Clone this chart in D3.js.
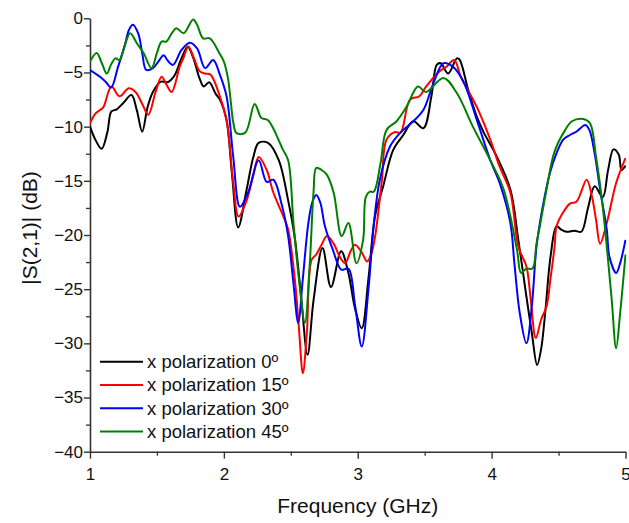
<!DOCTYPE html>
<html>
<head>
<meta charset="utf-8">
<script src="https://cdn.jsdelivr.net/npm/d3@7"></script>
<style>
  html, body { margin: 0; padding: 0; background: #fff; }
  svg { display: block; }
  text { font-family: Arial, "Liberation Sans", sans-serif; fill: #111; }
</style>
</head>
<body>
<svg id="chart" width="629" height="523"></svg>
<script>
// Transmission |S21| versus frequency for four polarization angles.
const freq0 = [1.00,1.04,1.087,1.13,1.16,1.20,1.25,1.31,1.35,1.39,1.43,1.47,1.53,1.58,1.63,1.68,1.73,1.77,1.82,1.85,1.89,1.94,1.97,2.02,2.06,2.107,2.17,2.22,2.26,2.33,2.41,2.48,2.53,2.575,2.625,2.67,2.737,2.80,2.876,2.93,2.98,3.03,3.08,3.13,3.19,3.265,3.34,3.415,3.49,3.55,3.59,3.62,3.675,3.74,3.76,3.825,3.89,3.94,4.04,4.14,4.20,4.26,4.30,4.34,4.37,4.40,4.44,4.485,4.52,4.56,4.62,4.67,4.72,4.77,4.83,4.87,4.91,4.95,4.97,5.00];
const s21_0 = [-10.0,-11.2,-12.05,-10.5,-8.6,-8.4,-7.8,-7.07,-8.5,-10.46,-8.2,-6.8,-5.85,-5.9,-5.3,-3.8,-2.62,-3.6,-5.6,-6.3,-5.9,-7.0,-7.5,-9.4,-14.3,-19.3,-15.8,-12.8,-11.5,-11.5,-13.1,-16.8,-20.3,-25.4,-31.06,-26.0,-21.2,-24.8,-21.5,-23.5,-26.8,-28.6,-24.0,-18.2,-15.5,-12.15,-10.77,-9.5,-10.15,-7.2,-4.3,-4.15,-5.1,-3.7,-3.8,-6.6,-9.1,-10.5,-12.8,-15.8,-20.5,-25.7,-29.0,-32.0,-30.5,-27.2,-22.0,-19.2,-19.5,-19.7,-19.6,-19.7,-17.5,-15.5,-16.5,-14.0,-12.1,-12.6,-14.0,-13.6];

const freq15 = [1.00,1.04,1.075,1.10,1.16,1.22,1.29,1.34,1.39,1.435,1.49,1.535,1.57,1.61,1.67,1.70,1.735,1.78,1.82,1.86,1.90,1.97,2.02,2.07,2.11,2.17,2.22,2.26,2.32,2.37,2.445,2.48,2.53,2.56,2.59,2.62,2.655,2.69,2.73,2.77,2.82,2.865,2.905,2.95,2.98,3.03,3.07,3.10,3.13,3.18,3.215,3.28,3.32,3.39,3.46,3.51,3.61,3.66,3.72,3.77,3.83,3.89,3.99,4.06,4.14,4.20,4.26,4.29,4.33,4.37,4.41,4.44,4.47,4.485,4.53,4.585,4.635,4.71,4.75,4.78,4.81,4.86,4.93,5.00];
const s21_15 = [-9.7,-8.8,-8.46,-8.2,-6.3,-7.2,-6.46,-6.8,-7.9,-8.9,-6.8,-5.4,-6.1,-6.8,-4.46,-3.6,-2.6,-3.8,-4.9,-5.1,-5.2,-7.2,-9.4,-15.2,-18.3,-16.8,-14.5,-12.8,-14.0,-16.1,-18.3,-19.5,-24.1,-28.5,-32.75,-29.0,-22.3,-21.8,-20.9,-20.1,-20.8,-22.0,-22.6,-21.4,-20.9,-21.6,-22.45,-21.8,-20.1,-15.0,-11.2,-10.5,-10.55,-7.5,-7.2,-6.3,-4.9,-4.5,-3.85,-5.4,-6.8,-8.2,-11.2,-13.7,-16.1,-21.1,-22.9,-25.7,-29.5,-27.8,-26.6,-24.0,-21.1,-19.2,-18.0,-17.1,-16.9,-14.9,-16.5,-18.6,-20.8,-18.9,-15.2,-12.9];

const freq30 = [1.00,1.075,1.12,1.157,1.21,1.26,1.29,1.32,1.36,1.39,1.42,1.47,1.51,1.55,1.58,1.62,1.685,1.745,1.80,1.86,1.92,1.97,2.02,2.07,2.12,2.18,2.26,2.32,2.37,2.43,2.48,2.52,2.555,2.59,2.63,2.66,2.69,2.72,2.755,2.815,2.877,2.93,2.98,3.03,3.08,3.12,3.165,3.24,3.315,3.415,3.49,3.565,3.64,3.71,3.79,3.89,3.99,4.06,4.14,4.17,4.21,4.26,4.30,4.335,4.38,4.435,4.485,4.535,4.585,4.635,4.70,4.73,4.77,4.81,4.86,4.88,4.93,4.96,5.00];
const s21_30 = [-4.77,-5.4,-5.9,-6.4,-4.46,-2.5,-1.1,-0.6,-1.4,-3.2,-4.77,-4.6,-4.0,-3.4,-3.9,-4.3,-2.9,-2.25,-2.77,-4.6,-3.85,-5.2,-7.2,-12.8,-17.4,-16.1,-13.1,-15.1,-14.9,-17.1,-20.1,-24.5,-28.1,-24.0,-19.0,-17.0,-16.3,-17.0,-19.2,-21.4,-23.2,-23.1,-26.5,-30.3,-25.0,-19.0,-14.9,-11.85,-10.6,-9.5,-8.46,-6.0,-4.15,-4.46,-5.85,-9.4,-13.1,-15.2,-18.9,-22.6,-27.2,-30.0,-26.6,-21.1,-17.5,-14.3,-12.45,-11.2,-10.77,-10.45,-9.84,-10.3,-12.5,-15.8,-19.5,-22.0,-23.5,-22.6,-20.45];

const freq45 = [1.00,1.05,1.09,1.125,1.16,1.19,1.22,1.26,1.30,1.35,1.40,1.46,1.50,1.535,1.57,1.61,1.645,1.70,1.77,1.80,1.845,1.895,1.97,2.00,2.03,2.05,2.07,2.095,2.16,2.23,2.28,2.33,2.44,2.48,2.52,2.56,2.605,2.64,2.67,2.69,2.73,2.77,2.82,2.88,2.93,2.99,3.04,3.06,3.09,3.12,3.17,3.215,3.29,3.365,3.45,3.51,3.64,3.74,3.86,3.99,4.09,4.19,4.22,4.26,4.305,4.335,4.36,4.41,4.47,4.55,4.60,4.685,4.735,4.78,4.83,4.895,4.93,4.96,5.00];
const s21_45 = [-4.0,-3.2,-4.2,-5.1,-4.2,-3.7,-3.85,-2.5,-1.38,-2.3,-3.2,-4.6,-3.2,-2.15,-2.15,-1.4,-0.92,-1.38,-0.1,-0.6,-1.85,-1.85,-3.3,-4.0,-5.5,-7.5,-9.6,-10.6,-10.55,-7.9,-9.2,-9.4,-12.1,-13.1,-18.9,-24.0,-28.1,-23.0,-16.0,-13.8,-14.0,-14.45,-16.1,-20.1,-18.9,-22.6,-20.45,-16.5,-16.0,-16.0,-13.4,-10.3,-9.5,-8.15,-6.3,-6.8,-5.5,-6.9,-10.0,-13.1,-15.8,-21.4,-23.5,-23.1,-23.1,-20.8,-19.2,-15.8,-12.3,-10.3,-9.5,-9.3,-9.7,-12.8,-17.4,-25.7,-30.45,-27.2,-21.8];

const seriesNames = ["x polarization 0º", "x polarization 15º", "x polarization 30º", "x polarization 45º"];
const seriesColors = ["#000000", "#ff0000", "#0000ff", "#008000"];
const xTicks = [1, 2, 3, 4, 5];
const yTicks = [0, -5, -10, -15, -20, -25, -30, -35, -40];

const series = [
  { name: seriesNames[0], color: seriesColors[0], f: freq0,  v: s21_0 },
  { name: seriesNames[1], color: seriesColors[1], f: freq15, v: s21_15 },
  { name: seriesNames[2], color: seriesColors[2], f: freq30, v: s21_30 },
  { name: seriesNames[3], color: seriesColors[3], f: freq45, v: s21_45 }
];

const svg = d3.select("#chart");
const margin = { left: 90, right: 3.5, top: 18.3, bottom: 71.3 };
const W = 629 - margin.left - margin.right;
const H = 523 - margin.top - margin.bottom;

const x = d3.scaleLinear().domain([1, 5]).range([0, W]);
const y = d3.scaleLinear().domain([-40, 0]).range([H, 0]);

const g = svg.append("g").attr("transform", `translate(${margin.left},${margin.top})`);

g.append("clipPath").attr("id", "plotClip")
  .append("rect").attr("x", 0).attr("y", -1).attr("width", W + 1).attr("height", H + 1);

const axisColor = "#333";

// minor ticks
const xMinor = d3.range(1.5, 5, 1);
const yMinor = d3.range(-37.5, 0, 5);
g.append("g").attr("transform", `translate(0,${H})`)
  .call(d3.axisBottom(x).tickValues(xMinor).tickSize(4).tickFormat(""))
  .call(a => a.select(".domain").remove())
  .call(a => a.selectAll("line").attr("stroke", axisColor).attr("stroke-width", 1.3));
g.append("g")
  .call(d3.axisLeft(y).tickValues(yMinor).tickSize(4).tickFormat(""))
  .call(a => a.select(".domain").remove())
  .call(a => a.selectAll("line").attr("stroke", axisColor).attr("stroke-width", 1.3));

// major axes
const xAxis = g.append("g").attr("transform", `translate(0,${H})`)
  .call(d3.axisBottom(x).tickValues(xTicks).tickSize(7).tickSizeOuter(0).tickPadding(9).tickFormat(d3.format("d")));
const yAxis = g.append("g")
  .call(d3.axisLeft(y).tickValues(yTicks).tickSize(6).tickSizeOuter(0).tickPadding(1).tickFormat(d3.format("d")));

[xAxis, yAxis].forEach(a => {
  a.select(".domain").attr("stroke", axisColor).attr("stroke-width", 1.6);
  a.selectAll(".tick line").attr("stroke", axisColor).attr("stroke-width", 1.4);
  a.selectAll("text").attr("font-size", 17).attr("fill", "#111")
    .attr("font-family", "Arial, 'Liberation Sans', sans-serif");
});

// data lines
const line = d3.line()
  .x(d => x(d[0]))
  .y(d => y(d[1]))
  .curve(d3.curveCatmullRom.alpha(0.5));

const lines = g.append("g").attr("clip-path", "url(#plotClip)");
series.forEach(s => {
  lines.append("path")
    .datum(s.f.map((f, i) => [f, s.v[i]]))
    .attr("fill", "none")
    .attr("stroke", s.color)
    .attr("stroke-width", 2)
    .attr("stroke-linejoin", "round")
    .attr("d", line);
});

// legend
const legend = g.append("g").attr("transform", `translate(10, ${361.7 - margin.top})`);
series.forEach((s, i) => {
  const row = legend.append("g").attr("transform", `translate(0, ${i * 23.3})`);
  row.append("line").attr("x1", 0).attr("x2", 43).attr("y1", 0).attr("y2", 0)
    .attr("stroke", s.color).attr("stroke-width", 2);
  row.append("text").attr("x", 47).attr("y", 6.5)
    .attr("font-size", 18.5).text(s.name);
});

// axis titles
svg.append("text")
  .attr("x", margin.left + W / 2).attr("y", 513)
  .attr("text-anchor", "middle").attr("font-size", 21)
  .text("Frequency (GHz)");
svg.append("text")
  .attr("transform", `translate(37, 228) rotate(-90)`)
  .attr("text-anchor", "middle").attr("font-size", 21)
  .text("|S(2,1)| (dB)");
</script>
</body>
</html>
